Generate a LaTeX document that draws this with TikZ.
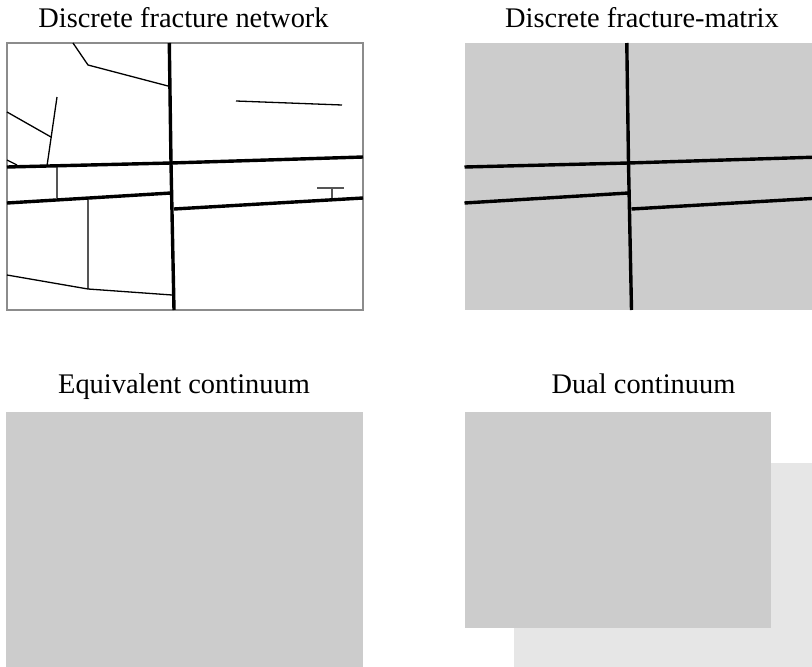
\documentclass[tikz,border=0pt]{standalone}
\usepackage{fontspec}
\setmainfont{Liberation Serif}
\definecolor{matgray}{HTML}{CCCCCC}
\definecolor{lightmat}{HTML}{E6E6E6}
\definecolor{bordergray}{HTML}{8C8C8C}
\definecolor{thingray}{HTML}{555555}
\begin{document}
\begin{tikzpicture}[x=1pt,y=-1pt,
  title/.style={anchor=base,inner sep=0pt,font=\fontsize{28.4pt}{30pt}\selectfont},
  majorfrac/.style={line width=3.4pt,black},
  minorfrac/.style={line width=1.3pt,black},
  minorgray/.style={line width=1.3pt,thingray},
  panelborder/.style={line width=1.2pt,draw=bordergray},
  matrixbox/.style={fill=matgray},
  lightbox/.style={fill=lightmat}]
\useasboundingbox (0,0) rectangle (812,667);
\clip (0,0) rectangle (812,667);

% titles
\node[title] (t1) at (183.5,27) {Discrete fracture network};
\node[title] (t2) at (642,27) {Discrete fracture-matrix};
\node[title] (t3) at (184,393) {Equivalent continuum};
\node[title] (t4) at (643.5,393) {Dual continuum};

% ---- Panel 1: discrete fracture network
\draw[panelborder] (7,43) rectangle (363,310);
% minor fractures
\draw[minorfrac] (73,43) -- (88,65) -- (168,86);
\draw[minorfrac] (57,97) -- (47,166);
\draw[minorfrac] (7,112) -- (51,137);
\draw[minorfrac] (7,160) -- (17,165);
\draw[minorfrac] (236,101) -- (342,105);
\draw[minorgray] (57,167) -- (57,198);
\draw[minorgray] (88,200) -- (88,289);
\draw[minorfrac] (7,275) -- (88,289) -- (172,295);
\draw[minorgray] (317,188) -- (344,188);
\draw[minorgray] (332,188) -- (332,198);
% major fractures
\draw[majorfrac] (169.3,43) -- (171,163) -- (174,310);
\draw[majorfrac] (7,167) -- (171,163) -- (363,157);
\draw[majorfrac] (7,203) -- (171,193);
\draw[majorfrac] (174,209) -- (363,198);

% ---- Panel 2: discrete fracture-matrix
\begin{scope}[xshift=457.5pt]
\fill[matrixbox] (7,43) rectangle (363,310);
\draw[majorfrac] (169.3,43) -- (171,163) -- (174,310);
\draw[majorfrac] (7,167) -- (171,163) -- (363,157);
\draw[majorfrac] (7,203) -- (171,193);
\draw[majorfrac] (174,209) -- (363,198);
\end{scope}

% ---- Panel 3: equivalent continuum
\fill[matrixbox] (6,412) rectangle (362.5,670);

% ---- Panel 4: dual continuum
\fill[lightbox] (514,463) rectangle (820,670);
\fill[matrixbox] (464.5,412) rectangle (770.6,628);
\end{tikzpicture}
\end{document}
